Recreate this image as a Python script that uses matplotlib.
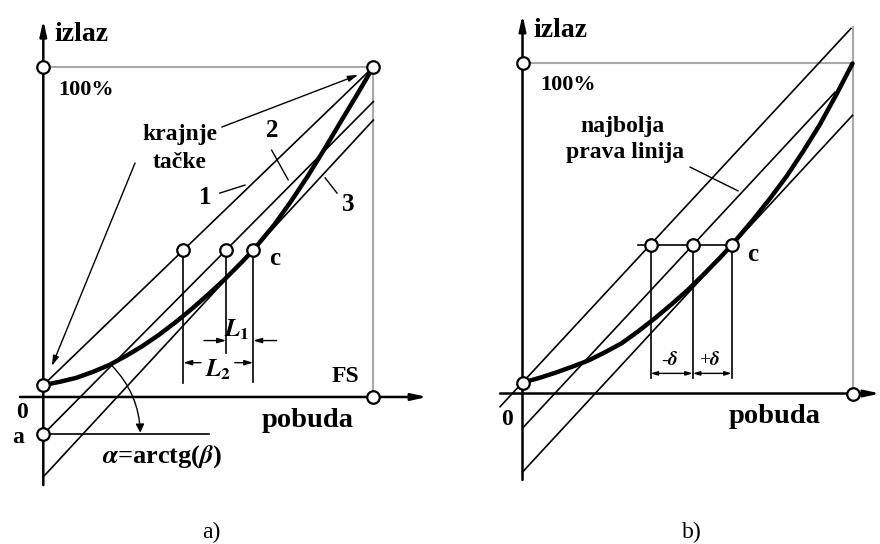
import matplotlib

matplotlib.use("Agg")
import matplotlib.pyplot as plt  # noqa: E402
from matplotlib.patches import FancyArrowPatch  # noqa: E402

plt.rcParams.update(
    {
        "font.family": ["Liberation Serif", "DejaVu Serif"],
        "font.weight": "bold",
        "mathtext.fontset": "stix",
        "figure.facecolor": "white",
    }
)

INK = "black"
FRAME = "#a8a8a8"

# Both panels in fractions of full scale: pobuda FS = 1, izlaz 100% = 1.

# a) terminal-based, zero-based and tangent reference lines
curve_a_x = [0.00, 0.05, 0.10, 0.15, 0.20, 0.25, 0.30, 0.35, 0.40, 0.45, 0.50,
             0.55, 0.60, 0.636, 0.70, 0.75, 0.80, 0.85, 0.90, 0.95, 1.00]
curve_a_y = [0.036, 0.046, 0.058, 0.076, 0.097, 0.124, 0.154, 0.188, 0.226, 0.267, 0.311,
             0.357, 0.407, 0.445, 0.522, 0.592, 0.667, 0.748, 0.832, 0.915, 1.000]
line1_a = ([0.0, 1.0], [0.036, 1.000])    # through both end points
line2_a = ([0.0, 1.0], [-0.113, 0.895])   # starts at offset "a"
line3_a = ([0.0, 1.0], [-0.242, 0.839])   # tangent at c
offset_a = -0.113
level_a = 0.445
marks_a_x = [0.424, 0.554, 0.636]
drop_a_y = [0.042, 0.134, 0.046]

# b) best straight line with +/- delta band
curve_b_x = [0.00, 0.05, 0.10, 0.15, 0.20, 0.25, 0.30, 0.35, 0.40, 0.45, 0.50,
             0.55, 0.60, 0.634, 0.70, 0.75, 0.80, 0.85, 0.90, 0.95, 1.00]
curve_b_y = [0.033, 0.047, 0.063, 0.081, 0.100, 0.125, 0.152, 0.188, 0.227, 0.269, 0.313,
             0.362, 0.413, 0.450, 0.528, 0.591, 0.658, 0.733, 0.813, 0.904, 1.000]
upper_b = ([-0.068, 0.995], [-0.040, 1.106])
best_b = ([0.0, 0.947], [-0.105, 0.913])
lower_b = ([0.0, 1.0], [-0.238, 0.843])
level_b = 0.45
marks_b_x = [0.388, 0.516, 0.634]
drop_b_y = 0.047


def arrow(ax, start, end, lw=1.0, style="-|>,head_length=0.6,head_width=0.18", **kw):
    ax.annotate(
        "",
        xy=end,
        xytext=start,
        arrowprops=dict(arrowstyle=style, lw=lw, color=INK, shrinkA=0, shrinkB=0, **kw),
    )


def circles(ax, xs, ys):
    ax.plot(xs, ys, "o", ms=9, mfc="white", mec=INK, mew=1.6, zorder=6)


def axes_frame(ax, x_span, y_span):
    arrow(ax, (x_span[0], 0), (x_span[1], 0), lw=1.8,
          style="-|>,head_length=0.9,head_width=0.2")
    arrow(ax, (0, y_span[0]), (0, y_span[1]), lw=1.8,
          style="-|>,head_length=0.9,head_width=0.2")


def characteristic(ax, xs, ys):
    ax.plot(xs, ys, color=INK, lw=3.2, solid_capstyle="round",
            solid_joinstyle="round", zorder=4)


fig = plt.figure(figsize=(8.8, 5.44), dpi=100)
ax_a = fig.add_axes([0.0, 0.0, 0.5, 1.0])
ax_b = fig.add_axes([0.5, 0.0, 0.5, 1.0])
ax_a.set_xlim(-0.1312, 1.2021)
ax_a.set_ylim(-0.4455, 1.2030)
ax_b.set_xlim(-0.25, 1.0833)
ax_b.set_ylim(-0.456, 1.1924)
for ax in (ax_a, ax_b):
    ax.axis("off")

# ---------------- panel a ----------------
ax = ax_a
ax.plot([0, 1], [1, 1], color=FRAME, lw=1.5)
ax.plot([1, 1], [0, 1], color=FRAME, lw=1.5)
axes_frame(ax, (-0.071, 1.163), (-0.267, 1.142))

for xs, ys in (line1_a, line2_a, line3_a):
    ax.plot(xs, ys, color=INK, lw=1.2)
ax.plot([0, 0.502], [offset_a, offset_a], color=INK, lw=1.2)
characteristic(ax, curve_a_x, curve_a_y)

for x, y0 in zip(marks_a_x, drop_a_y):
    ax.plot([x, x], [level_a, y0], color=INK, lw=1.2)

# dimension L1
y_l1 = 0.171
arrow(ax, (0.487, y_l1), (marks_a_x[1], y_l1), style="-|>,head_length=0.5,head_width=0.15")
arrow(ax, (0.707, y_l1), (marks_a_x[2], y_l1), style="-|>,head_length=0.5,head_width=0.15")
ax.text(0.586, 0.203, r"$L_1$", ha="center", va="center", fontsize=18)
# dimension L2
y_l2 = 0.104
arrow(ax, (0.478, y_l2), (marks_a_x[0], y_l2), style="-|>,head_length=0.5,head_width=0.15")
arrow(ax, (0.580, y_l2), (marks_a_x[2], y_l2), style="-|>,head_length=0.5,head_width=0.15")
ax.text(0.530, 0.082, r"$L_2$", ha="center", va="center", fontsize=18)

# slope angle alpha measured from the offset point
ax.add_patch(
    FancyArrowPatch(
        (0.208, 0.095), (0.294, -0.108),
        connectionstyle="arc3,rad=-0.19",
        arrowstyle="-|>,head_length=5,head_width=2.5",
        lw=1.0, color=INK, shrinkA=0, shrinkB=0,
    )
)

circles(ax, [0, 0, 1, 1, 0], [1, curve_a_y[0], 1, 0, offset_a])
circles(ax, marks_a_x, [level_a] * 3)

# end point callouts
arrow(ax, (0.541, 0.818), (0.954, 0.976), lw=1.0)
arrow(ax, (0.278, 0.709), (0.026, 0.094), lw=1.0)
ax.text(0.414, 0.794, "krajnje", ha="center", va="center", fontsize=17)
ax.text(0.414, 0.712, "tačke", ha="center", va="center", fontsize=17)

for lx, ly in (([0.535, 0.611], [0.618, 0.642]),
               ([0.692, 0.742], [0.748, 0.658]),
               ([0.854, 0.890], [0.664, 0.618])):
    ax.plot(lx, ly, color=INK, lw=1.0)
ax.text(0.490, 0.603, "1", ha="center", va="center", fontsize=18)
ax.text(0.693, 0.809, "2", ha="center", va="center", fontsize=18)
ax.text(0.923, 0.582, "3", ha="center", va="center", fontsize=18)

ax.text(0.035, 1.097, "izlaz", ha="left", va="center", fontsize=20)
ax.text(0.045, 0.930, "100%", ha="left", va="center", fontsize=16)
ax.text(0.700, 0.421, "c", ha="center", va="center", fontsize=18)
ax.text(0.914, 0.061, "FS", ha="center", va="center", fontsize=17)
ax.text(-0.065, -0.048, "0", ha="center", va="center", fontsize=17)
ax.text(-0.075, -0.124, "a", ha="center", va="center", fontsize=17)
ax.text(0.802, -0.070, "pobuda", ha="center", va="center", fontsize=20.5)
ax.text(0.360, -0.182, r"$\alpha$=arctg($\beta$)", ha="center", va="center", fontsize=19)
ax.text(0.508, -0.409, "a)", ha="center", va="center", fontsize=17, fontweight="normal")

# ---------------- panel b ----------------
ax = ax_b
ax.plot([0, 1], [1, 1], color=FRAME, lw=1.5)
ax.plot([1, 1], [0, 1.112], color=FRAME, lw=1.5)
axes_frame(ax, (-0.068, 1.083), (-0.262, 1.147))

for xs, ys in (upper_b, best_b, lower_b):
    ax.plot(xs, ys, color=INK, lw=1.2)
ax.plot([0.35, marks_b_x[2]], [level_b, level_b], color=INK, lw=1.2)
characteristic(ax, curve_b_x, curve_b_y)
for x in marks_b_x:
    ax.plot([x, x], [level_b, drop_b_y], color=INK, lw=1.2)

# +/- delta band
y_d = 0.061
for x0, x1 in zip(marks_b_x[:-1], marks_b_x[1:]):
    arrow(ax, (x0, y_d), (x1, y_d), style="<|-|>,head_length=0.4,head_width=0.12")
ax.text(0.447, 0.102, r"-$\delta$", ha="center", va="center", fontsize=14, fontweight="normal")
ax.text(0.568, 0.102, r"+$\delta$", ha="center", va="center", fontsize=14, fontweight="normal")

circles(ax, [0, 0, 1], [curve_b_y[0], 1, 0])
circles(ax, marks_b_x, [level_b] * 3)

ax.plot([0.508, 0.653], [0.686, 0.614], color=INK, lw=1.0)
ax.text(0.303, 0.808, "najbolja", ha="center", va="center", fontsize=17)
ax.text(0.311, 0.729, "prava linija", ha="center", va="center", fontsize=17)

ax.text(0.032, 1.100, "izlaz", ha="left", va="center", fontsize=20)
ax.text(0.053, 0.935, "100%", ha="left", va="center", fontsize=16)
ax.text(0.698, 0.420, "c", ha="center", va="center", fontsize=18)
ax.text(-0.047, -0.080, "0", ha="center", va="center", fontsize=17)
ax.text(0.765, -0.071, "pobuda", ha="center", va="center", fontsize=20.5)
ax.text(0.514, -0.420, "b)", ha="center", va="center", fontsize=17, fontweight="normal")

fig.savefig("out.png", dpi=100)
